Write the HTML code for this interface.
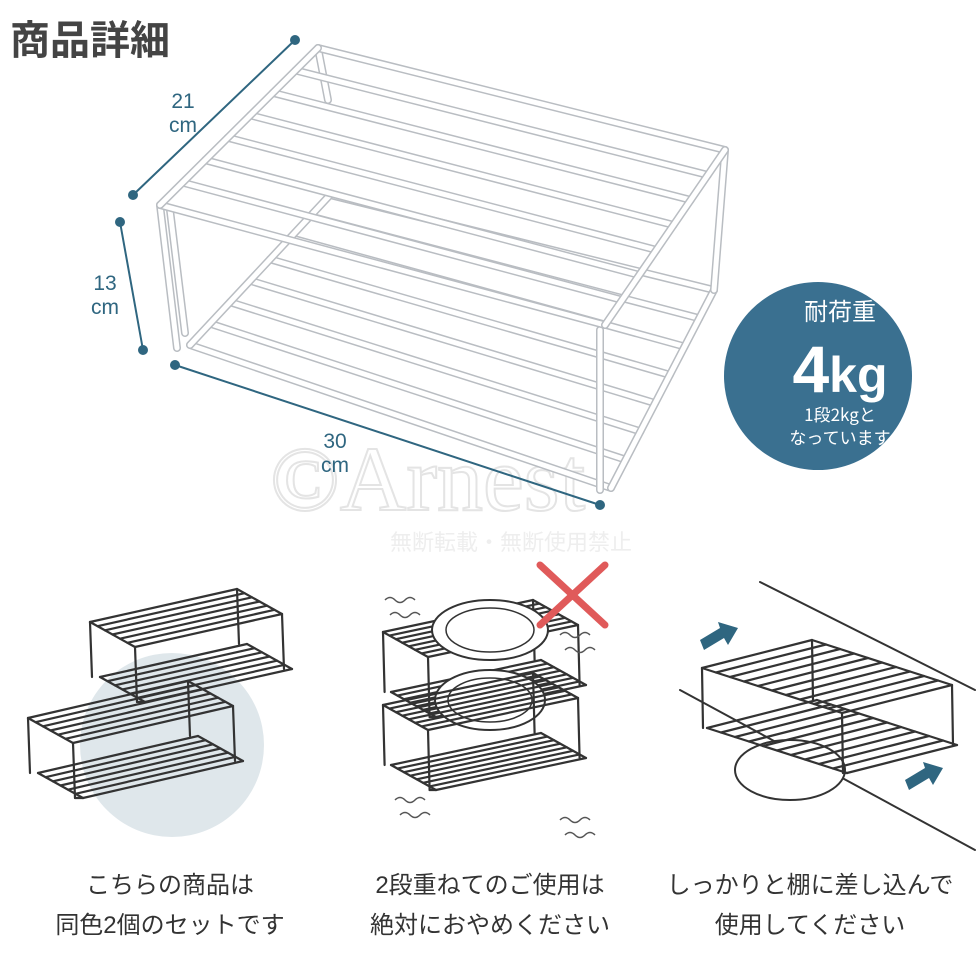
<!DOCTYPE html>
<html><head><meta charset="utf-8"><style>
body{margin:0;background:#fff;width:980px;height:980px;overflow:hidden;position:relative;font-family:"Liberation Sans","Noto Sans CJK JP",sans-serif}
.t{position:absolute;color:#333;font-size:24px;text-align:center;width:320px;line-height:40px}
</style></head><body>
<svg id="s" width="980" height="980" style="position:absolute;left:0;top:0"></svg>
<div style="position:absolute;left:10px;top:8px;font-size:40px;font-weight:bold;color:#444">商品詳細</div>
<div class="t" style="left:10px;top:866px">こちらの商品は<br>同色2個のセットです</div>
<div class="t" style="left:330px;top:866px">2段重ねてのご使用は<br>絶対におやめください</div>
<div class="t" style="left:650px;top:866px">しっかりと棚に差し込んで<br>使用してください</div>
<script>
const s=document.getElementById('s');let h='';
const L=(a,b,c,d,st,w)=>h+=`<line x1="${a}" y1="${b}" x2="${c}" y2="${d}" stroke="${st}" stroke-width="${w}" stroke-linecap="round"/>`;
const lerp=(p,q,t)=>[p[0]+(q[0]-p[0])*t,p[1]+(q[1]-p[1])*t];
const o='#b9bdc2';
const W=(p,q)=>{L(p[0],p[1],q[0],q[1],o,8);L(p[0],p[1],q[0],q[1],'#fff',5)};
function shelf(A,C,B,D,n){
 for(let i=0;i<=n;i++)W(lerp(A,C,i/n),lerp(B,D,i/n));
 W(A,C);W(B,D);
}
// watermark
h+=`<text x="270" y="510" font-family="Liberation Serif" font-size="92" fill="none" stroke="#e4e4e4" stroke-width="2">©Arnest</text>`;
h+=`<text x="390" y="550" font-size="22" fill="#eeeeee" font-family="Noto Sans CJK JP">無断転載・無断使用禁止</text>`;
// big white rack
shelf([330,195],[190,345],[714,290],[611,488],7);
W([160,205],[177,348]);W([170,210],[185,333]);
W([600,330],[600,490]);
W([725,150],[714,290]);
W([318,48],[328,100]);
shelf([318,48],[160,205],[725,150],[605,325],7);
// dims
const tc='#2f6680';
L(133,195,295,40,tc,2);L(120,222,143,350,tc,2);L(175,365,600,505,tc,2);
[[133,195],[295,40],[120,222],[143,350],[175,365],[600,505]].forEach(p=>h+=`<circle cx="${p[0]}" cy="${p[1]}" r="5" fill="${tc}"/>`);
h+=`<text x="183" y="108" font-size="21" fill="${tc}" text-anchor="middle">21</text><text x="183" y="132" font-size="21" fill="${tc}" text-anchor="middle">cm</text>`;
h+=`<text x="105" y="290" font-size="21" fill="${tc}" text-anchor="middle">13</text><text x="105" y="314" font-size="21" fill="${tc}" text-anchor="middle">cm</text>`;
h+=`<text x="335" y="448" font-size="21" fill="${tc}" text-anchor="middle">30</text><text x="335" y="472" font-size="21" fill="${tc}" text-anchor="middle">cm</text>`;
// circle
h+=`<circle cx="818" cy="376" r="94" fill="#3a7090"/>`;
h+=`<text x="840" y="320" font-size="24" fill="#fff" text-anchor="middle" font-family="Noto Sans CJK JP">耐荷重</text>`;
h+=`<text x="840" y="392" font-size="50" font-weight="bold" fill="#fff" text-anchor="middle"><tspan font-size="66">4</tspan>kg</text>`;
h+=`<text x="840" y="421" font-size="17" fill="#fff" text-anchor="middle" font-family="Noto Sans CJK JP">1段2kgと</text>`;
h+=`<text x="840" y="444" font-size="17" fill="#fff" text-anchor="middle" font-family="Noto Sans CJK JP">なっています</text>`;
// small racks
const k='#333';
const K=(p,q)=>L(p[0],p[1],q[0],q[1],k,2.2);
const add=(p,q)=>[p[0]+q[0],p[1]+q[1]];
function rack(O,u,v,hg,sh,n){
 const O2=add(O,[sh,hg]);
 for(let i=0;i<=n;i++){const p=add(O2,[v[0]*i/n,v[1]*i/n]);K(p,add(p,u))}
 K(O2,add(O2,v));K(add(O2,u),add(add(O2,u),v));
 const FL=add(O,v),FR=add(add(O,u),v),BR=add(O,u);
 K(FL,add(FL,[sh*0.2,hg]));K(FR,add(FR,[sh*0.2,hg]));K(BR,add(BR,[sh*0.2,hg]));K(O,add(O,[sh*0.2,hg]));
 K(add(FL,[sh*0.2,hg]),add(O2,v));
 for(let i=0;i<=n;i++){const p=add(O,[v[0]*i/n,v[1]*i/n]);K(p,add(p,u))}
 K(O,FL);K(BR,FR);
}
h+=`<circle cx="172" cy="745" r="92" fill="#dfe7eb"/>`;
rack([90,622],[147,-33],[45,25],55,10,6);
rack([28,718],[160,-37],[45,25],55,10,6);
// middle
rack([383,632],[150,-32],[45,25],60,8,7);
h+=`<ellipse cx="490" cy="630" rx="58" ry="30" fill="#fff" stroke="${k}" stroke-width="2"/><ellipse cx="490" cy="630" rx="44" ry="22" fill="none" stroke="${k}" stroke-width="1.5"/>`;
h+=`<ellipse cx="490" cy="700" rx="55" ry="30" fill="#fff" stroke="${k}" stroke-width="2"/><ellipse cx="490" cy="700" rx="42" ry="22" fill="none" stroke="${k}" stroke-width="1.5"/>`;
rack([383,705],[150,-32],[45,25],60,8,7);
L(540,565,605,625,'#e05a5a',7);L(605,565,540,625,'#e05a5a',7);
for(const [x,y] of [[385,600],[390,615],[560,635],[565,650],[395,800],[400,815],[560,820],[565,835]])h+=`<path d="M${x} ${y} q5 -5 10 0 t10 0 t10 0" fill="none" stroke="#555" stroke-width="1.5"/>`;
// right
L(760,582,975,690,k,2);L(680,690,975,850,k,2);
h+=`<ellipse cx="790" cy="770" rx="55" ry="30" fill="#fff" stroke="${k}" stroke-width="2"/>`;
rack([702,668],[110,-28],[140,45],60,5,10);
h+=`<polygon points="700,640 720,628 718,622 738,628 728,645 724,638 704,650" fill="#2f6680"/>`;
h+=`<polygon points="905,780 925,768 923,762 943,768 933,785 929,778 909,790" fill="#2f6680"/>`;
s.innerHTML=h;
</script>
</body></html>
